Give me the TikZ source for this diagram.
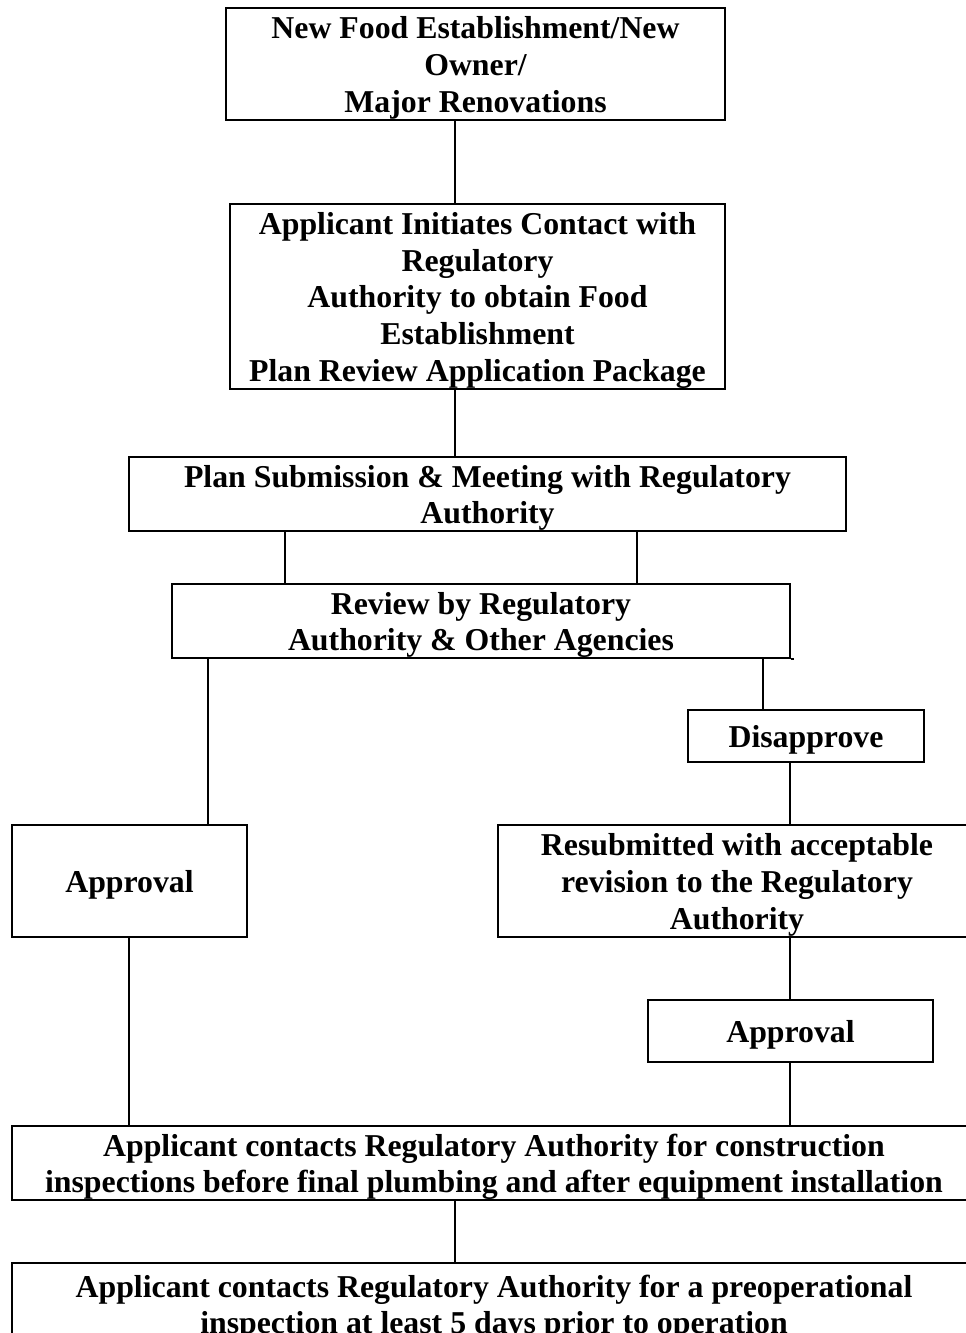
\documentclass[tikz,border=0pt]{standalone}
\usepackage{fontspec}
\setmainfont{Liberation Serif}
\newcommand\tstr{\rule{0pt}{30pt}}
\newcommand\bstr{\rule[-7pt]{0pt}{7pt}}
\begin{document}
\begin{tikzpicture}[x=1pt,y=-1pt,
  box/.style={draw, line width=2.2pt, rectangle, inner sep=0pt, align=center,
    font=\fontsize{31.8}{36.6}\selectfont\bfseries},
  link/.style={line width=2.2pt}]
\useasboundingbox (0,0) rectangle (966,1333);
\node[box, minimum width=499, minimum height=112] (b1) at (475.5,64) {\tstr New Food Establishment/New\\Owner/\\Major Renovations\bstr};
\node[box, minimum width=495, minimum height=185] (b2) at (477.5,296.5) {\tstr Applicant Initiates Contact with\\Regulatory\\Authority to obtain Food\\Establishment\\Plan Review Application Package\bstr};
\node[box, minimum width=717, minimum height=74] (b3) at (487.5,494) {\tstr Plan Submission \& Meeting with Regulatory\\Authority\bstr};
\node[box, minimum width=618, minimum height=72] (b4) at (481,621) {\tstr Review by Regulatory\\Authority \& Other Agencies\bstr};
\node[box, minimum width=236, minimum height=52] (b5) at (806,736) {\tstr Disapprove\bstr};
\node[box, minimum width=235, minimum height=112] (b6) at (129.5,881) {\tstr Approval\bstr};
\node[box, minimum width=478, minimum height=112] (b7) at (737,881) {\tstr Resubmitted with acceptable\\revision to the Regulatory\\Authority\bstr};
\node[box, minimum width=285, minimum height=62] (b8) at (790.5,1031) {\tstr Approval\bstr};
\node[box, minimum width=964, minimum height=74] (b9) at (494,1163) {\tstr Applicant contacts Regulatory Authority for construction\\inspections before final plumbing and after equipment installation\bstr};
\node[box, minimum width=964, minimum height=82] (b10) at (494,1304) {\tstr Applicant contacts Regulatory Authority for a preoperational\\inspection at least 5 days prior to operation\bstr};
\coordinate (xa) at (455,0);
\coordinate (xb) at (285,0);
\coordinate (xc) at (637,0);
\coordinate (xd) at (208,0);
\coordinate (xe) at (763,0);
\coordinate (xf) at (790,0);
\coordinate (xg) at (129,0);
\coordinate (ext) at (794,0);
\draw[link] (b1.south -| xa) -- (b2.north -| xa);
\draw[link] (b2.south -| xa) -- (b3.north -| xa);
\draw[link] (b3.south -| xb) -- (b4.north -| xb);
\draw[link] (b3.south -| xc) -- (b4.north -| xc);
\draw[link] (b4.south -| xd) -- (b6.north -| xd);
\draw[link] (b4.south -| xe) -- (b5.north -| xe);
\draw[link] (b5.south -| xf) -- (b7.north -| xf);
\draw[link] (b7.south -| xf) -- (b8.north -| xf);
\draw[link] (b8.south -| xf) -- (b9.north -| xf);
\draw[link] (b6.south -| xg) -- (b9.north -| xg);
\draw[link] (b9.south -| xa) -- (b10.north -| xa);
\draw[line width=1.5pt] (b4.south east) -- (b4.south east -| ext);
\end{tikzpicture}
\end{document}
